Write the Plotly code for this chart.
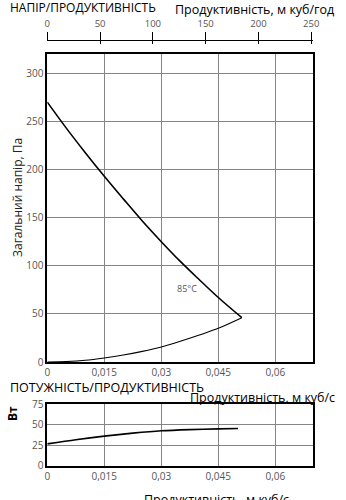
import plotly.graph_objects as go

# Pressure curve (Pa) vs flow (m3/s)
press_x = [0, 0.005, 0.010, 0.015, 0.020, 0.025, 0.030, 0.035, 0.040, 0.045, 0.0512]
press_y = [270, 243, 217.5, 193, 169.5, 146.5, 125, 104.5, 85.5, 67, 46]
# System curve
sys_x = [0, 0.005, 0.01, 0.015, 0.02, 0.025, 0.03, 0.035, 0.04, 0.045, 0.0512]
sys_y = [0, 0.5, 1.8, 4.2, 7.2, 11.0, 15.6, 21.5, 28.0, 35.0, 46]
# Power curve (W)
pow_x = [0, 0.0075, 0.015, 0.0225, 0.03, 0.0375, 0.045, 0.0502]
pow_y = [26.7, 31.8, 36.2, 39.8, 42.7, 44.2, 45.1, 45.5]

x_ticks = [0, 0.015, 0.03, 0.045, 0.06]
top_ticks = [0, 50, 100, 150, 200, 250]

FONT = "Open Sans"
TICKC = "#555555"
GRID = "#858585"
W, H = 346, 500

def px(x):
    return x / W

def py(y):
    return 1 - y / H

xdom = [px(47.3), px(313.3)]

fig = go.Figure()
fig.add_trace(go.Scatter(x=press_x, y=press_y, mode="lines",
                         line=dict(color="black", width=1.6, shape="spline", smoothing=1.0),
                         xaxis="x", yaxis="y", hoverinfo="skip"))
fig.add_trace(go.Scatter(x=sys_x, y=sys_y, mode="lines",
                         line=dict(color="black", width=1.1, shape="spline", smoothing=0.8),
                         xaxis="x", yaxis="y", hoverinfo="skip"))
fig.add_trace(go.Scatter(x=pow_x, y=pow_y, mode="lines",
                         line=dict(color="black", width=1.6, shape="spline", smoothing=0.8),
                         xaxis="x2", yaxis="y2", hoverinfo="skip"))
# invisible traces to make the top axes exist
fig.add_trace(go.Scatter(x=[0, 252], y=[None, None], mode="lines", xaxis="x3", yaxis="y",
                         showlegend=False, hoverinfo="skip"))
fig.add_trace(go.Scatter(x=[0, 252], y=[None, None], mode="lines", xaxis="x4", yaxis="y",
                         showlegend=False, hoverinfo="skip"))

tickfont = dict(family=FONT, size=10, color=TICKC)

fig.update_layout(
    width=W, height=H,
    margin=dict(l=0, r=0, t=0, b=0),
    paper_bgcolor="white", plot_bgcolor="white",
    showlegend=False,
    separators=", ",
    font=dict(family=FONT),
    xaxis=dict(domain=xdom, anchor="y", range=[0, 0.07], tickvals=x_ticks,
               showgrid=True, gridcolor=GRID, gridwidth=1, zeroline=False,
               showline=True, linecolor="black", linewidth=1.6, mirror=True,
               ticks="", tickfont=tickfont, automargin=False),
    yaxis=dict(domain=[py(362), py(54)], anchor="x", range=[0, 320], dtick=50,
               showgrid=True, gridcolor=GRID, gridwidth=1, zeroline=False,
               showline=True, linecolor="black", linewidth=1.6, mirror=True,
               ticks="", tickfont=tickfont, automargin=False),
    xaxis2=dict(domain=xdom, anchor="y2", range=[0, 0.07], tickvals=x_ticks,
                showgrid=True, gridcolor=GRID, gridwidth=1, zeroline=False,
                showline=True, linecolor="black", linewidth=1.6, mirror=True,
                ticks="", tickfont=tickfont, automargin=False),
    yaxis2=dict(domain=[py(465.7), py(404)], anchor="x2", range=[0, 75.5], tickvals=[0, 25, 50, 75],
                showgrid=True, gridcolor=GRID, gridwidth=1, zeroline=False,
                showline=True, linecolor="black", linewidth=1.6, mirror=True,
                ticks="", tickfont=tickfont, automargin=False),
    xaxis3=dict(domain=xdom, overlaying="x", anchor="free", position=py(40), side="top",
                range=[0, 252], tickvals=top_ticks, showgrid=False, zeroline=False,
                showline=True, linecolor="black", linewidth=1.2,
                ticks="outside", ticklen=8, tickwidth=1.2, tickcolor="black",
                ticklabelstandoff=1,
                tickfont=dict(family=FONT, size=9.5, color=TICKC), automargin=False),
    xaxis4=dict(domain=xdom, overlaying="x", anchor="free", position=py(40), side="top",
                range=[0, 252], tickvals=top_ticks, showgrid=False, zeroline=False,
                showline=False, showticklabels=False,
                ticks="inside", ticklen=3, tickwidth=1.2, tickcolor="black",
                automargin=False),
)

ann = []
def add_text(text, x, y, size, xanchor="left", yanchor="middle", color="black", textangle=0, bold=False):
    t = f"<b>{text}</b>" if bold else text
    ann.append(dict(text=t, x=x, y=y, xref="paper", yref="paper", xanchor=xanchor, yanchor=yanchor,
                    showarrow=False, textangle=textangle,
                    font=dict(family=FONT, size=size, color=color)))

add_text("НАПІР/ПРОДУКТИВНІСТЬ", px(8), py(7), 12)
add_text("Продуктивність, м куб/год", px(336), py(9.5), 12.5, xanchor="right")
add_text("Загальний напір, Па", px(17), py(198), 12, xanchor="center", textangle=-90, color="#222")
add_text("ПОТУЖНІСТЬ/ПРОДУКТИВНІСТЬ", px(8), py(387), 12.5)
add_text("Продуктивність, м куб/с", px(337), py(397.5), 12.5, xanchor="right")
add_text("Вт", px(12), py(413), 12, xanchor="center", textangle=-90, bold=True)
add_text("Продуктивність, м куб/с", px(216), py(489), 12.5, xanchor="center", yanchor="top")
ann.append(dict(text="85°C", x=0.0368, y=76, xref="x", yref="y", showarrow=False,
                font=dict(family=FONT, size=9, color="#555")))
fig.update_layout(annotations=ann)

fig.write_html("out.html")
